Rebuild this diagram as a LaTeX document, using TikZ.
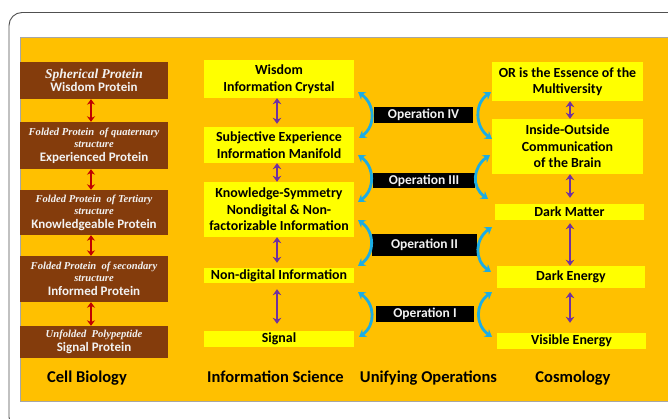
\documentclass[tikz,border=0pt]{standalone}
\usepackage{fontspec}
\setmainfont{Carlito}
\newfontfamily\serifitfam{Liberation Serif}
\usetikzlibrary{arrows.meta,calc}
\definecolor{orangebg}{HTML}{FFC000}
\definecolor{brownc}{HTML}{843C0C}
\definecolor{lighttext}{HTML}{F2F2F2}
\definecolor{yellowc}{HTML}{FFFF00}
\definecolor{cyanc}{HTML}{1CADE4}
\definecolor{purplec}{HTML}{7030A0}
\definecolor{redc}{HTML}{C00000}
\definecolor{framec}{HTML}{505050}
\newcommand\protit[1]{{\serifitfam\itshape\bfseries\fontsize{10.6}{12}\selectfont #1}}
\newcommand\protbig[1]{{\serifitfam\itshape\fontsize{13.5}{15}\selectfont #1}}
\begin{document}
\begin{tikzpicture}[x=1pt,y=-1pt,
  brownbox/.style={fill=brownc, inner sep=0pt, align=center, text=lighttext, minimum width=148pt, font=\bfseries\fontsize{13}{14}\selectfont},
  ybox/.style={fill=yellowc, inner sep=0pt, align=center, text=black, font=\bfseries\fontsize{13.9}{16.5}\selectfont},
  opbox/.style={fill=black, inner sep=0pt, text=lighttext, font=\bfseries\fontsize{13.5}{15}\selectfont},
  head/.style={anchor=base, inner sep=0pt, text=black, font=\bfseries\fontsize{16.5}{19}\selectfont},
  redarrow/.style={draw=redc, line width=1.8pt, {Stealth[length=5.5pt,width=8pt]}-{Stealth[length=5.5pt,width=8pt]}},
  purarrow/.style={draw=purplec, line width=1.8pt, {Stealth[length=6pt,width=8.5pt]}-{Stealth[length=6pt,width=8.5pt]}},
  cyanarc/.style={draw=cyanc, line width=2.8pt, {Stealth[length=7pt,width=9pt]}-{Stealth[length=7pt,width=9pt]}}
]
\useasboundingbox (0,0) rectangle (668,419);
\clip (0,0) rectangle (668,419);
\fill[white] (0,0) rectangle (668,419);
\draw[framec, line width=0.9pt, rounded corners=13pt] (9,12.5) rectangle (700,430);
\draw[fill=orangebg, draw=gray!70, line width=0.6pt] (20,37) rectangle (672,401);

% Cell biology column
\node[brownbox, minimum height=37pt] (b1) at (94,80.5) {\protbig{Spherical Protein}\\[-1pt] Wisdom Protein};
\node[brownbox, minimum height=47pt] (b2) at (94,145.5) {\protit{Folded Protein \ of quaternary}\\[-2pt] \protit{structure}\\[0pt] Experienced Protein};
\node[brownbox, minimum height=45pt] (b3) at (94,212.5) {\protit{Folded Protein \ of Tertiary}\\[-2pt] \protit{structure}\\[0pt] Knowledgeable Protein};
\node[brownbox, minimum height=46pt] (b4) at (94,279) {\protit{Folded Protein \ of secondary}\\[-2pt] \protit{structure}\\[0pt] Informed Protein};
\node[brownbox, minimum height=32pt] (b5) at (94,342) {\protit{Unfolded \ Polypeptide}\\[0pt] Signal Protein};
\foreach \p/\q in {b1/b2,b2/b3,b3/b4,b4/b5}
  \draw[redarrow] ([xshift=-3pt]\p.south) -- ([xshift=-3pt]\q.north);

% Information science column
\node[ybox, minimum width=150pt, minimum height=38pt] (mA) at (279,79) {Wisdom\\ Information Crystal};
\node[ybox, minimum width=150pt, minimum height=36pt] (mB) at (279,145) {Subjective Experience\\ Information Manifold};
\node[ybox, minimum width=150pt, minimum height=55pt] (mC) at (279,209.5) {Knowledge-Symmetry\\ Nondigital \& Non-\\ factorizable Information};
\node[ybox, minimum width=150pt, minimum height=15pt] (mD) at (279,275.5) {Non-digital Information};
\node[ybox, minimum width=150pt, minimum height=16pt] (mE) at (279,339) {Signal};
\draw[purarrow, shorten >=3pt] ([xshift=-2pt]mA.south) -- ([xshift=-2pt]mB.north);
\draw[purarrow] ([xshift=-2pt]mB.south) -- ([xshift=-2pt]mC.north);
\draw[purarrow, shorten >=5pt] ([xshift=-2pt]mC.south) -- ([xshift=-2pt]mD.north);
\draw[purarrow, shorten <=6pt, shorten >=7pt] ([xshift=-2pt]mD.south) -- ([xshift=-2pt]mE.north);

% Cosmology column
\node[ybox, minimum width=151pt, minimum height=39pt] (r1) at (567.5,81.5) {OR is the Essence of the\\ Multiversity};
\node[ybox, minimum width=151pt, minimum height=55pt] (r2) at (567.5,146.5) {Inside-Outside\\ Communication\\ of the Brain};
\node[ybox, minimum width=149pt, minimum height=16pt] (r3) at (569.5,212) {Dark Matter};
\node[ybox, minimum width=148pt, minimum height=22pt] (r4) at (571,277) {Dark Energy};
\node[ybox, minimum width=149pt, minimum height=16pt] (r5) at (571.5,341) {Visible Energy};
\draw[purarrow] (r1.south -| 570,0) -- (r2.north -| 570,0);
\draw[purarrow, shorten >=6pt] (r2.south -| 570,0) -- (r3.north -| 570,0);
\draw[purarrow, shorten <=3pt] (r3.south -| 570,0) -- (r4.north -| 570,0);
\draw[purarrow, shorten <=4pt, shorten >=10pt] (r4.south -| 570,0) -- (r5.north -| 570,0);

% Operations
\node[opbox, minimum width=99pt, minimum height=16pt] (o4) at (423.5,115) {Operation IV};
\node[opbox, minimum width=102pt, minimum height=15pt] (o3) at (424,180.5) {Operation III};
\node[opbox, minimum width=105pt, minimum height=22pt] (o2) at (424.5,245) {Operation II};
\node[opbox, minimum width=98pt, minimum height=16pt] (o1) at (425,314) {Operation I};

% cyan arcs
\coordinate (l4a) at (358,92);  \coordinate (l4b) at (359,138);
\coordinate (l3a) at (358,155); \coordinate (l3b) at (358,202);
\coordinate (l2a) at (358,220); \coordinate (l2b) at (358,266);
\coordinate (l1a) at (358,292); \coordinate (l1b) at (359,337);
\coordinate (k4a) at (491,92);  \coordinate (k4b) at (492,139);
\coordinate (k3a) at (490,155); \coordinate (k3b) at (488,199);
\coordinate (k2a) at (492,227); \coordinate (k2b) at (491,272);
\coordinate (k1a) at (492,292); \coordinate (k1b) at (492,337);
\foreach \n in {4,3,2,1}{
  \draw[cyanarc] (l\n a) .. controls +(17,12) and +(17,-12) .. (l\n b);
  \draw[cyanarc] (k\n a) .. controls +(-17,12) and +(-17,-12) .. (k\n b);
}

% headings
\node[head] (h1) at (87,382) {Cell Biology};
\node[head] (h2) at (275.5,382) {Information Science};
\node[head] (h3) at (428.5,382) {Unifying Operations};
\node[head] (h4) at (573,382) {Cosmology};
\end{tikzpicture}
\end{document}
